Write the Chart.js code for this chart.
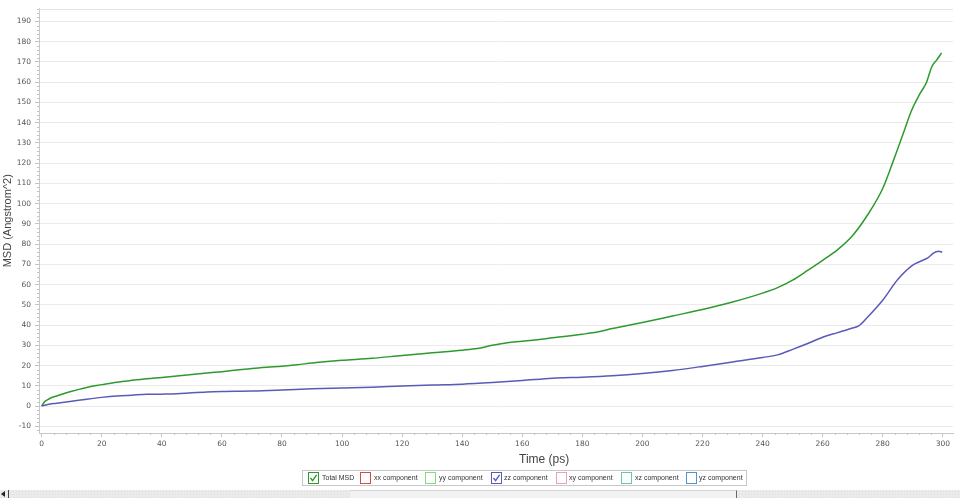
<!DOCTYPE html>
<html>
<head>
<meta charset="utf-8">
<script src="https://cdn.jsdelivr.net/npm/chart.js@4/dist/chart.umd.min.js"></script>
<style>
html,body{margin:0;padding:0;background:#fff;width:960px;height:498px;overflow:hidden;}
body{position:relative;font-family:"Liberation Sans",Arial,sans-serif;}
#c{position:absolute;left:0;top:0;}
#xtitle{position:absolute;left:519px;top:452px;font-size:12px;line-height:14px;color:#444;white-space:nowrap;}
#legend{position:absolute;left:302px;top:470px;width:443px;height:14px;border:1px solid #c8c8c8;background:#fff;}
.item{position:absolute;top:0;height:14px;}
.box{position:absolute;top:1px;width:9px;height:10px;border:1px solid;background:#fff;}
.box svg{position:absolute;left:0;top:0;}
.lbl{position:absolute;top:2px;font-size:7px;line-height:10px;color:#333;white-space:nowrap;}
#scroll{position:absolute;left:0;top:490px;width:960px;height:8px;background:#ebebeb;
  background-image:radial-gradient(#dcdcdc 0.6px,transparent 0.7px);background-size:3px 3px;}
#thumb{position:absolute;left:350px;top:0;width:386px;height:7px;background:#f2f2f2;border-top:1px solid #d4d4d4;border-right:1px solid #666;}
#arrow{position:absolute;left:1px;top:1px;width:0;height:0;border-top:3px solid transparent;border-bottom:3px solid transparent;border-right:4px solid #222;}
#abar{position:absolute;left:8px;top:0;width:1px;height:8px;background:#444;}
</style>
</head>
<body>
<canvas id="c" width="960" height="498"></canvas>
<div id="xtitle">Time (ps)</div>
<div id="legend"></div>
<div id="scroll"><div id="arrow"></div><div id="abar"></div><div id="thumb"></div></div>
<script>
// ---- data ----
const totalTime = [0,1,2,3,5,7,10,13,16,20,25,30,35,40,45,50,55,60,65,70,75,80,85,90,95,100,110,120,130,140,145,150,155,160,170,180,185,190,195,200,210,220,230,240,245,250,255,260,265,270,275,280,283.5,286.8,289.6,292.4,294.6,296.3,298,299.6];
const totalMsd  = [0,2.2,3.2,4.0,5.0,6.0,7.3,8.5,9.6,10.6,11.8,12.7,13.5,14.1,14.8,15.6,16.3,17.0,17.8,18.6,19.2,19.7,20.4,21.3,22.0,22.6,23.6,25.0,26.3,27.6,28.4,30.0,31.3,32.0,33.7,35.5,36.6,38.3,39.8,41.3,44.5,47.7,51.4,55.8,58.5,62.2,67.0,72.0,77.3,84.3,94.5,107.5,121,134.5,146,154.3,160,167.5,171,174.5];
const zzTime = [0,2,5,10,15,20,25,30,35,40,45,50,55,60,70,80,90,100,110,120,130,140,150,160,170,180,190,200,210,220,230,240,245,250,255,260,265,270,272,275,280,285,290,293,295,297,298.5,299.8];
const zzMsd  = [0,0.8,1.4,2.4,3.4,4.3,5.0,5.4,5.8,5.9,6.1,6.6,7.0,7.2,7.4,7.9,8.5,8.9,9.3,9.9,10.4,10.8,11.6,12.6,13.8,14.3,15.0,16.1,17.6,19.6,21.8,24.0,25.3,28.0,30.9,34.0,36.3,38.6,39.6,44.0,52.3,62.5,69.6,71.8,73.2,75.7,76.5,76.0];
const xTickValues = [0,20,40,60,80,100,120,140,160,180,200,220,240,260,280,300];
const yTickValues = [-10,0,10,20,30,40,50,60,70,80,90,100,110,120,130,140,150,160,170,180,190];
const legendNames = ['Total MSD','xx component','yy component','zz component','xy component','xz component','yz component'];
const legendColors = ['#2e9a2e','#c8504f','#7fdc7f','#5a5ab8','#e6a3b2','#6cc4b2','#4f95d3'];
const legendChecked = [true,false,false,true,false,false,false];
const legendOffsets = [[5,19],[57,71],[122,136],[188,201],[253,266],[318,332],[383,396]];

const GREEN = '#2e9a2e', BLUE = '#5a5ab8';
const xMinorStep = 4, yMinorStep = 2;

// legend (html)
const lg = document.getElementById('legend');
legendNames.forEach((n,i)=>{
  const it = document.createElement('div'); it.className='item'; it.style.left='0px';
  const b = document.createElement('div'); b.className='box';
  b.style.left = legendOffsets[i][0]+'px'; b.style.borderColor = legendColors[i];
  if(legendChecked[i]){
    b.innerHTML = '<svg width="9" height="10" viewBox="0 0 9 10"><path d="M1.5 5 L3.6 7.6 L7.6 1.8" fill="none" stroke="'+legendColors[i]+'" stroke-width="1.4"/></svg>';
  }
  const t = document.createElement('div'); t.className='lbl'; t.textContent=n; t.style.left=legendOffsets[i][1]+'px';
  it.appendChild(b); it.appendChild(t); lg.appendChild(it);
});

const minorTicks = {
  id:'minorTicks',
  afterDraw(chart){
    const ctx = chart.ctx, a = chart.chartArea, xs = chart.scales.x, ys = chart.scales.y;
    ctx.save();
    ctx.strokeStyle = '#c4c4c4'; ctx.lineWidth = 1;
    ctx.beginPath();
    for(let v = Math.ceil(xs.min/xMinorStep)*xMinorStep; v <= xs.max; v += xMinorStep){
      if(v % 20 === 0) continue;
      const px = Math.round(xs.getPixelForValue(v)) + 0.5;
      ctx.moveTo(px, a.bottom); ctx.lineTo(px, a.bottom + 2);
    }
    for(let v = Math.ceil(ys.min/yMinorStep)*yMinorStep; v <= ys.max; v += yMinorStep){
      if(v % 10 === 0) continue;
      const py = Math.round(ys.getPixelForValue(v)) + 0.5;
      ctx.moveTo(a.left, py); ctx.lineTo(a.left - 2, py);
    }
    ctx.stroke();
    ctx.strokeStyle = '#e4e4e4';
    ctx.beginPath(); ctx.moveTo(a.left, Math.round(a.top)+0.5); ctx.lineTo(a.right, Math.round(a.top)+0.5); ctx.stroke();
    ctx.restore();
  }
};

new Chart(document.getElementById('c'), {
  type:'line',
  data:{
    datasets:[
      {label:'zz component', data: zzTime.map((t,i)=>({x:t,y:zzMsd[i]})), borderColor:BLUE, backgroundColor:BLUE, borderWidth:1.5, pointRadius:0, cubicInterpolationMode:'monotone', fill:false},
      {label:'Total MSD', data: totalTime.map((t,i)=>({x:t,y:totalMsd[i]})), borderColor:GREEN, backgroundColor:GREEN, borderWidth:1.5, pointRadius:0, cubicInterpolationMode:'monotone', fill:false}
    ]
  },
  options:{
    responsive:false, animation:false, devicePixelRatio:1,
    layout:{padding:{top:8,right:7,left:0,bottom:0}},
    plugins:{legend:{display:false}, tooltip:{enabled:false}},
    scales:{
      x:{
        type:'linear', min:-0.9, max:303.4,
        afterFit(s){ s.height = 65; },
        afterBuildTicks(s){ s.ticks = xTickValues.map(v=>({value:v})); },
        grid:{drawOnChartArea:false, tickLength:4, color:'#c4c4c4'},
        border:{color:'#c8c8c8'},
        ticks:{font:{family:'DejaVu Sans', size:7.5}, color:'#555', padding:3, maxRotation:0, autoSkip:false}
      },
      y:{
        type:'linear', min:-13.3, max:196.4,
        afterFit(s){ s.width = 39; },
        afterBuildTicks(s){ s.ticks = yTickValues.map(v=>({value:v})); },
        grid:{color:'#ebebeb', tickLength:4, tickColor:'#c4c4c4'},
        border:{color:'#c8c8c8'},
        ticks:{font:{family:'DejaVu Sans', size:7.5}, color:'#555', padding:4, autoSkip:false},
        title:{display:true, text:'MSD (Angstrom^2)', font:{family:'Liberation Sans', size:11}, color:'#444', padding:{top:1.5,bottom:0}}
      }
    }
  },
  plugins:[minorTicks]
});
</script>
</body>
</html>
